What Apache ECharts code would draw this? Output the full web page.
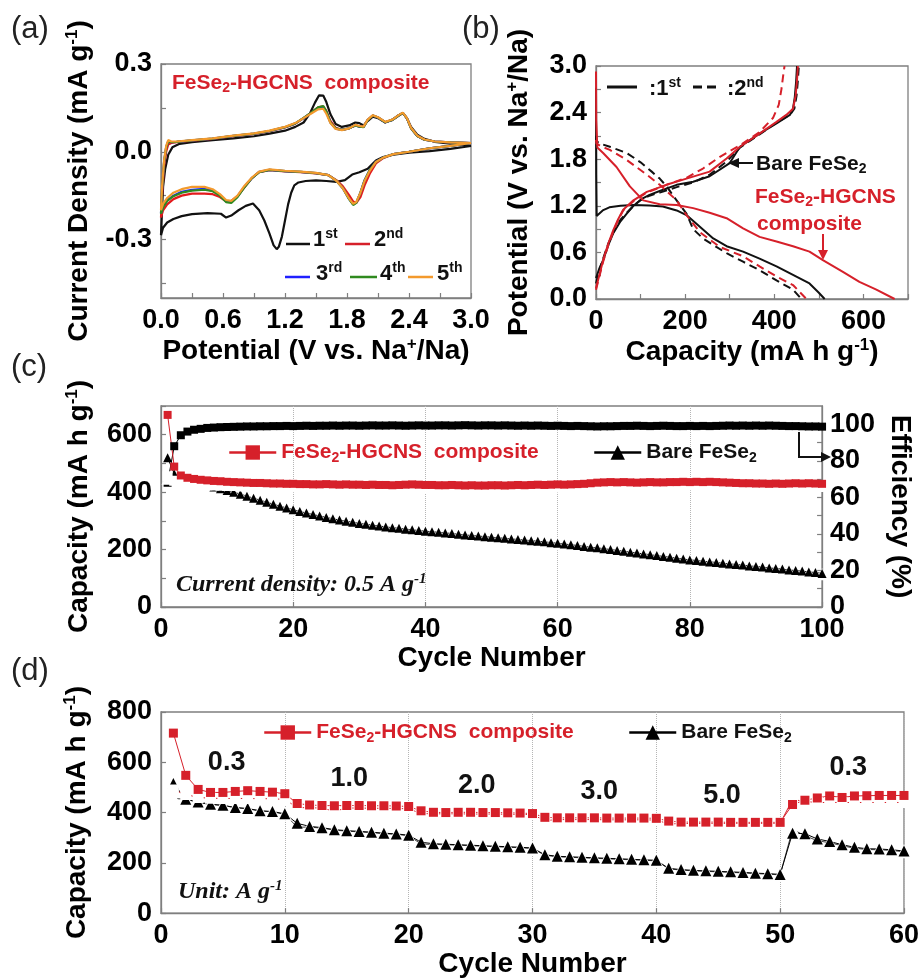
<!DOCTYPE html>
<html><head><meta charset="utf-8">
<script src="https://cdn.jsdelivr.net/npm/echarts@6/dist/echarts.min.js"></script>
<style>html,body{margin:0;padding:0;background:#fff}#c{width:922px;height:979px}</style>
</head><body><div id="c"></div>
<script>
// ---------------- (a) cyclic voltammetry ----------------
const cv1Volt = [3.0,2.8,2.6,2.4,2.25,2.15,2.08,2.0,1.92,1.85,1.78,1.7,1.6,1.5,1.4,1.33,1.29,1.26,1.23,1.2,1.17,1.14,1.12,1.09,1.05,1.0,0.95,0.89,0.82,0.75,0.68,0.63,0.58,0.45,0.3,0.2,0.12,0.06,0.02,0,
  0.01,0.02,0.04,0.07,0.11,0.18,0.3,0.5,0.7,0.9,1.05,1.2,1.3,1.38,1.44,1.49,1.53,1.57,1.6,1.64,1.69,1.75,1.82,1.88,1.92,1.96,2.0,2.05,2.1,2.17,2.24,2.3,2.34,2.38,2.42,2.48,2.55,2.65,2.8,3.0];
const cv1Cur = [0.02,0.01,0.002,-0.003,-0.01,-0.018,-0.03,-0.058,-0.07,-0.078,-0.097,-0.103,-0.1,-0.098,-0.1,-0.105,-0.115,-0.14,-0.18,-0.235,-0.29,-0.325,-0.333,-0.32,-0.28,-0.235,-0.2,-0.177,-0.185,-0.2,-0.218,-0.225,-0.212,-0.21,-0.213,-0.22,-0.23,-0.242,-0.26,-0.285,
  -0.2,-0.12,-0.06,-0.01,0.015,0.027,0.033,0.04,0.046,0.053,0.062,0.072,0.085,0.1,0.13,0.168,0.193,0.192,0.17,0.128,0.095,0.085,0.09,0.1,0.098,0.09,0.105,0.12,0.115,0.1,0.11,0.125,0.132,0.115,0.085,0.058,0.044,0.034,0.028,0.02];
const cvVolt = [3.0,2.8,2.6,2.4,2.25,2.15,2.08,2.02,1.97,1.93,1.89,1.86,1.82,1.76,1.7,1.62,1.5,1.35,1.2,1.05,0.95,0.88,0.8,0.74,0.68,0.63,0.57,0.5,0.42,0.3,0.2,0.12,0.06,0.02,0,
  0.01,0.03,0.05,0.07,0.1,0.15,0.3,0.5,0.7,0.9,1.05,1.2,1.3,1.38,1.45,1.52,1.57,1.6,1.64,1.69,1.75,1.82,1.88,1.92,1.96,2.0,2.05,2.1,2.17,2.24,2.3,2.34,2.38,2.42,2.48,2.55,2.65,2.8,3.0];
const cvCur2 = [0.03,0.02,0.012,0.0,-0.008,-0.022,-0.04,-0.075,-0.115,-0.155,-0.175,-0.17,-0.148,-0.118,-0.098,-0.08,-0.074,-0.07,-0.067,-0.063,-0.07,-0.09,-0.125,-0.152,-0.168,-0.17,-0.155,-0.145,-0.143,-0.143,-0.15,-0.162,-0.18,-0.2,-0.225,
  -0.15,-0.05,0.0,0.025,0.03,0.033,0.038,0.044,0.053,0.061,0.07,0.083,0.096,0.115,0.133,0.152,0.155,0.14,0.105,0.082,0.075,0.08,0.09,0.087,0.085,0.108,0.124,0.117,0.101,0.109,0.124,0.133,0.114,0.08,0.054,0.041,0.035,0.032,0.03];
const cvCur3 = [0.03,0.02,0.012,0.0,-0.008,-0.02,-0.034,-0.062,-0.097,-0.14,-0.174,-0.18,-0.161,-0.125,-0.1,-0.08,-0.073,-0.069,-0.066,-0.062,-0.069,-0.09,-0.123,-0.153,-0.172,-0.17,-0.148,-0.133,-0.127,-0.13,-0.137,-0.15,-0.166,-0.188,-0.21,
  -0.13,-0.034,0.016,0.036,0.033,0.034,0.039,0.045,0.054,0.062,0.071,0.084,0.097,0.115,0.132,0.15,0.153,0.136,0.1,0.079,0.075,0.08,0.09,0.086,0.085,0.109,0.124,0.117,0.101,0.109,0.124,0.133,0.114,0.081,0.054,0.041,0.035,0.032,0.03];
const cvCur4 = [0.03,0.02,0.012,0.0,-0.008,-0.02,-0.035,-0.062,-0.098,-0.14,-0.175,-0.182,-0.162,-0.125,-0.1,-0.08,-0.073,-0.069,-0.066,-0.062,-0.07,-0.09,-0.125,-0.155,-0.175,-0.172,-0.15,-0.135,-0.13,-0.133,-0.14,-0.152,-0.168,-0.19,-0.212,
  -0.13,-0.035,0.015,0.035,0.033,0.034,0.039,0.045,0.054,0.062,0.071,0.084,0.097,0.116,0.133,0.152,0.156,0.138,0.1,0.08,0.075,0.08,0.09,0.086,0.084,0.108,0.124,0.117,0.101,0.109,0.124,0.133,0.114,0.08,0.054,0.041,0.035,0.032,0.03];
const cvCur5 = [0.03,0.02,0.012,0.0,-0.008,-0.02,-0.035,-0.065,-0.1,-0.14,-0.172,-0.178,-0.16,-0.125,-0.1,-0.08,-0.072,-0.068,-0.065,-0.06,-0.068,-0.088,-0.12,-0.15,-0.168,-0.165,-0.145,-0.128,-0.12,-0.12,-0.128,-0.14,-0.158,-0.178,-0.2,
  -0.12,-0.03,0.02,0.04,0.035,0.035,0.04,0.046,0.055,0.063,0.072,0.085,0.098,0.115,0.13,0.145,0.147,0.13,0.098,0.078,0.074,0.08,0.092,0.088,0.086,0.11,0.125,0.118,0.102,0.11,0.125,0.134,0.115,0.082,0.055,0.042,0.035,0.032,0.03];

// ---------------- (b) charge / discharge profiles ----------------
const bareD1Cap = [0,0.5,1.5,5,15,30,55,84,120,150,181,203,233,263,293,330,367,405,442,479,500,513];
const bareD1V   = [2.72,1.6,1.07,1.08,1.14,1.18,1.2,1.21,1.205,1.19,1.14,1.08,0.93,0.78,0.68,0.61,0.52,0.42,0.31,0.2,0.08,0];
const bareC1Cap = [0,8,16,28,39,55,69,84,106,120,143,181,218,255,300,323,367,405,435,442,446,449,451];
const bareC1V   = [0.27,0.4,0.5,0.7,0.85,1.0,1.1,1.2,1.3,1.34,1.39,1.47,1.51,1.58,1.75,1.96,2.13,2.26,2.37,2.45,2.6,2.8,3.0];
const bareD2Cap = [0,1,10,31,69,100,125,143,160,173,190,203,218,240,270,293,330,367,405,442,461];
const bareD2V   = [2.1,2.03,2.0,1.96,1.88,1.76,1.64,1.55,1.44,1.33,1.2,1.1,0.9,0.78,0.67,0.59,0.48,0.37,0.24,0.12,0];
const bareC2Cap = [0,8,16,28,39,55,69,84,99,120,143,181,218,255,293,323,367,405,435,445,450,453,455];
const bareC2V   = [0.2,0.38,0.52,0.72,0.86,1.02,1.11,1.2,1.27,1.33,1.37,1.44,1.5,1.6,1.77,1.95,2.12,2.27,2.37,2.45,2.62,2.82,3.0];
const compD1Cap = [0,0.5,3,16,46,76,106,143,181,218,255,293,330,367,405,442,479,509,554,591,629,670];
const compD1V   = [2.93,2.3,1.95,1.88,1.7,1.45,1.27,1.22,1.21,1.17,1.11,1.04,0.91,0.8,0.74,0.68,0.61,0.5,0.35,0.22,0.12,0];
const compC1Cap = [0,8,16,28,39,50,61,84,114,158,203,255,293,323,367,405,427,442,448,451,453];
const compC1V   = [0.14,0.32,0.5,0.72,0.89,1.03,1.15,1.27,1.38,1.47,1.55,1.64,1.81,1.96,2.13,2.28,2.37,2.45,2.62,2.82,3.0];
const compD2Cap = [0,1,10,31,69,114,143,181,203,233,278,330,367,405,442,472];
const compD2V   = [2.05,2.0,1.97,1.92,1.79,1.6,1.47,1.27,1.08,0.86,0.67,0.55,0.42,0.29,0.18,0];
const compC2Cap = [0,8,16,28,39,50,61,84,114,158,203,240,278,323,367,397,410,416,420,423];
const compC2V   = [0.12,0.3,0.48,0.7,0.87,1.02,1.14,1.26,1.37,1.47,1.56,1.68,1.83,1.98,2.15,2.33,2.5,2.7,2.88,3.0];

// ---------------- (c) cycling at 0.5 A/g ----------------
const compDisC = [669,489,458,450,446,443,441,439,438,436, 435,434,433,432,432,431,430,430,429,429,
  428,428,427,427,428,427,426,427,426,426, 425,426,425,425,424,425,426,427,426,425,
  425,424,424,425,424,423,424,423,423,424, 424,423,424,425,424,425,426,425,426,427,
  426,427,428,429,431,433,434,435,434,435, 434,433,434,435,434,434,435,435,436,435,
  436,435,436,435,434,433,432,431,431,430, 430,429,430,429,430,431,430,431,430,429];
const compChaC = [455,440,432,428,426,425,424,423,422,421, 421,420,420,419,419,418,418,418,417,417,
  417,416,416,416,416,415,415,416,415,415, 414,415,414,414,413,414,415,416,415,414,
  414,413,413,414,413,412,413,412,412,413, 413,412,413,414,413,414,415,414,415,416,
  415,416,417,418,420,422,423,424,423,424, 423,422,423,424,423,423,424,424,425,424,
  425,424,425,424,423,422,421,420,420,419, 419,418,419,418,419,420,419,420,419,418];
const bareDisC = [520,464,448,440,434,428,423,418,412,406, 400,393,386,379,372,365,358,351,345,339,
  333,327,322,317,312,307,303,299,295,291, 288,285,282,279,276,274,271,269,266,264,
  262,260,258,256,253,251,249,247,245,243, 241,239,237,235,233,231,229,227,224,222,
  219,217,214,211,208,206,203,200,197,194, 191,188,185,182,179,176,173,170,167,164,
  162,159,157,155,152,150,148,146,143,141, 139,136,134,132,129,127,125,122,120,117];
const bareChaC = [445,448,440,434,429,423,418,413,407,401, 395,388,381,374,367,360,353,346,340,334,
  328,322,317,312,307,302,298,294,290,286, 283,280,277,274,271,269,266,264,261,259,
  257,255,253,251,248,246,244,242,240,238, 236,234,232,230,228,226,224,222,219,217,
  214,212,209,206,203,201,198,195,192,189, 186,183,180,177,174,171,168,165,162,159,
  157,154,152,150,147,145,143,141,138,136, 134,131,129,127,124,122,120,117,115,112];
const effC = [68,88,94,96,97,97.5,98,98.2,98.4,98.5, 98.6,98.7,98.8,98.8,98.9,98.9,99,99,99.1,99,
  99.1,99.2,99.1,99.2,99.2,99.3,99.2,99.3,99.3,99.2, 99.3,99.4,99.3,99.3,99.4,99.3,99.2,99.3,99.4,99.3,
  99.3,99.4,99.4,99.3,99.4,99.5,99.4,99.3,99.4,99.4, 99.3,99.4,99.3,99.2,99.3,99.2,99.3,99.2,99.1,99.2,
  99.1,99.0,99.1,99.0,98.9,98.8,98.9,98.9,99.0,99.1, 99.1,99.2,99.1,99.0,99.1,99.2,99.1,99.0,99.0,99.1,
  99.0,99.1,99.0,99.1,99.2,99.3,99.2,99.3,99.2,99.3, 99.2,99.3,99.2,99.1,99.0,99.0,98.9,98.8,98.8,98.7];

// ---------------- (d) rate capability ----------------
const compDisD = [716,548,492,480,480,484,487,484,481,475, 436,430,428,427,428,428,427,427,426,424,
  407,401,400,401,401,400,400,399,398,396, 381,379,379,379,379,378,378,378,378,377,
  366,362,362,362,362,361,361,361,361,361, 432,449,458,466,460,466,467,468,468,468];
const compChaD = [490,472,460,457,456,456,456,455,455,452, 420,419,418,405,418,418,417,417,416,415,
  396,395,395,395,394,394,394,393,393,392, 368,372,372,372,372,371,371,371,371,370,
  355,356,357,357,357,357,357,357,357,357, 452,444,440,440,440,440,440,440,440,440];
const bareDisD = [516,453,442,433,429,420,416,407,404,395, 357,345,340,332,328,325,322,318,315,310,
  282,276,274,272,270,268,266,264,262,259, 232,226,224,222,220,218,216,214,212,210,
  178,173,170,168,166,164,162,159,157,154, 318,316,295,285,272,262,256,255,252,247];
const bareChaD = [456,453,440,432,428,419,415,406,403,393, 342,342,338,330,326,323,320,316,313,308,
  275,273,272,270,268,266,264,262,260,257, 230,224,222,220,218,216,214,212,210,208,
  176,171,168,166,164,162,160,157,155,152, 333,308,288,280,268,258,253,252,249,244];
const rateLabels = ['0.3','1.0','2.0','3.0','5.0','0.3'];
const rateLabelCycle = [5.3, 15.2, 25.5, 35.4, 45.3, 55.5];
const rateLabelCap = [598, 537, 506, 482, 468, 578];

// ---------------- tick labels ----------------
const aXTicks = [0,0.6,1.2,1.8,2.4,3.0];
const aYTicks = [-0.3,0,0.3];
const bXTicks = [0,200,400,600];
const bYTicks = [0,0.6,1.2,1.8,2.4,3.0];
const cYTicks = [0,200,400,600];
const cY2Ticks = [0,20,40,60,80,100];

// ---------------- styling / building ----------------
const FONT = '"Liberation Sans", Arial, Helvetica, sans-serif';
const SERIF = '"Liberation Serif", "Times New Roman", serif';
const RED = '#d6202a';
const GREY = '#7f7f7f';
const zip = (xs, ys) => xs.map((x, i) => [x, ys[i]]);
const cycC = compDisC.map((_, i) => i + 1);
const cycD = compDisD.map((_, i) => i + 1);

function merge(a, b) {
  const o = Object.assign({}, a);
  for (const k in b) {
    if (b[k] && typeof b[k] === 'object' && !Array.isArray(b[k]) && a[k] && typeof a[k] === 'object') o[k] = merge(a[k], b[k]);
    else o[k] = b[k];
  }
  return o;
}
const nameRich = {
  t: {fontFamily: FONT, fontWeight: 'bold', fontSize: 28, color: '#000', lineHeight: 31},
  s: {fontFamily: FONT, fontWeight: 'bold', fontSize: 17, color: '#000', verticalAlign: 'top', lineHeight: 17}
};
function ax(o) {
  return merge({
    type: 'value',
    axisLine: {show: true, onZero: false, lineStyle: {color: GREY, width: 1.3}},
    axisTick: {show: true, inside: true, length: 5, lineStyle: {color: GREY, width: 1.2}},
    axisLabel: {color: '#000', fontFamily: FONT, fontWeight: 'bold', fontSize: 27, margin: 9},
    splitLine: {show: false},
    nameLocation: 'middle',
    nameTextStyle: {rich: nameRich}
  }, o);
}
const fix1 = v => Number(v).toFixed(1);

const grids = [
  {left: 161, top: 64, width: 310, height: 234},
  {left: 596, top: 66, width: 312, height: 233},
  {left: 161, top: 406, width: 671, height: 201},
  {left: 161, top: 712, width: 747, height: 203}
].map(g => Object.assign(g, {show: true, borderColor: GREY, borderWidth: 1.3, backgroundColor: 'transparent'}));

const xAxes = [
  ax({gridIndex: 0, min: 0, max: 3, name: '{t|Potential (V vs. Na}{s|+}{t|/Na)}', nameGap: 38,
      axisLabel: {customValues: aXTicks, formatter: fix1},
      axisTick: {customValues: [0,0.3,0.6,0.9,1.2,1.5,1.8,2.1,2.4,2.7,3.0]}}),
  ax({gridIndex: 1, min: 0, max: 700, name: '{t|Capacity (mA h g}{s|-1}{t|)}', nameGap: 38,
      axisLabel: {customValues: bXTicks},
      axisTick: {customValues: [0,100,200,300,400,500,600,700]}}),
  ax({gridIndex: 2, min: 0, max: 100, interval: 20, name: '{t|Cycle Number}', nameGap: 36,
      splitLine: {show: true, lineStyle: {type: 'dotted', color: '#b5b5b5', width: 1}}}),
  ax({gridIndex: 3, min: 0, max: 60, interval: 10, name: '{t|Cycle Number}', nameGap: 31,
      splitLine: {show: true, lineStyle: {type: 'dotted', color: '#b5b5b5', width: 1}}})
];
const yAxes = [
  ax({gridIndex: 0, min: -0.5, max: 0.3, name: '{t|Current Density (mA g}{s|-1}{t|)}', nameGap: 66,
      axisLabel: {customValues: aYTicks, formatter: fix1},
      axisTick: {customValues: [-0.45,-0.3,-0.15,0,0.15,0.3]}}),
  ax({gridIndex: 1, min: 0, max: 3, name: '{t|Potential (V vs. Na}{s|+}{t|/Na)}', nameGap: 61,
      axisLabel: {customValues: bYTicks, formatter: fix1},
      axisTick: {customValues: [0,0.3,0.6,0.9,1.2,1.5,1.8,2.1,2.4,2.7,3.0]}}),
  ax({gridIndex: 2, min: 0, max: 700, name: '{t|Capacity (mA h g}{s|-1}{t|)}', nameGap: 66,
      axisLabel: {customValues: cYTicks}, axisTick: {customValues: [0,100,200,300,400,500,600,700]}}),
  ax({gridIndex: 2, min: 0, max: 110, position: 'right', name: '{t|Efficiency (%)}', nameGap: 50, nameRotate: -90,
      axisLabel: {customValues: cY2Ticks, margin: 8}, axisTick: {customValues: [0,10,20,30,40,50,60,70,80,90,100]}}),
  ax({gridIndex: 3, min: 0, max: 800, interval: 200, name: '{t|Capacity (mA h g}{s|-1}{t|)}', nameGap: 68})
];

function line(name, xi, yi, data, color, width, dash) {
  return {name, type: 'line', xAxisIndex: xi, yAxisIndex: yi, data, showSymbol: false, symbol: 'none',
    lineStyle: {color, width, type: dash ? [8, 5] : 'solid'}, itemStyle: {color}, silent: true, z: 3};
}
function pts(name, xi, yi, data, color, symbol, size, hollow) {
  return {name, type: 'line', xAxisIndex: xi, yAxisIndex: yi, data, symbol, symbolSize: size, showSymbol: true,
    lineStyle: {color, width: 1}, itemStyle: hollow ? {color: '#fff', borderColor: color, borderWidth: 1.2} : {color},
    silent: true, z: 3};
}

const series = [
  line('cv1', 0, 0, zip(cv1Volt, cv1Cur), '#111', 2.2),
  line('cv2', 0, 0, zip(cvVolt, cvCur2), '#e31a1c', 2.2),
  line('cv3', 0, 0, zip(cvVolt, cvCur3), '#2020ff', 2.2),
  line('cv4', 0, 0, zip(cvVolt, cvCur4), '#2f8a1f', 2.2),
  line('cv5', 0, 0, zip(cvVolt, cvCur5), '#f39a2d', 2.2),

  line('bD1', 1, 1, zip(bareD1Cap, bareD1V), '#111', 2),
  line('bC1', 1, 1, zip(bareC1Cap, bareC1V), '#111', 2),
  line('bD2', 1, 1, zip(bareD2Cap, bareD2V), '#111', 2, true),
  line('bC2', 1, 1, zip(bareC2Cap, bareC2V), '#111', 2, true),
  line('cD1', 1, 1, zip(compD1Cap, compD1V), RED, 2),
  line('cC1', 1, 1, zip(compC1Cap, compC1V), RED, 2),
  line('cD2', 1, 1, zip(compD2Cap, compD2V), RED, 2, true),
  line('cC2', 1, 1, zip(compC2Cap, compC2V), RED, 2, true),

  pts('effC', 2, 3, zip(cycC, effC), '#000', 'rect', 8),
  pts('bareChaC', 2, 2, zip(cycC, bareChaC), '#333', 'emptyTriangle', 9, true),
  pts('bareC', 2, 2, zip(cycC, bareDisC), '#000', 'triangle', 9),
  pts('compChaC', 2, 2, zip(cycC, compChaC), RED, 'emptyRect', 8, true),
  pts('compC', 2, 2, zip(cycC, compDisC), RED, 'rect', 8),

  pts('bareChaD', 3, 4, zip(cycD, bareChaD), '#444', 'emptyTriangle', 11, true),
  pts('bareD', 3, 4, zip(cycD, bareDisD), '#000', 'triangle', 11),
  pts('compChaD', 3, 4, zip(cycD, compChaD), RED, 'emptyRect', 9, true),
  pts('compD', 3, 4, zip(cycD, compDisD), RED, 'rect', 9),
  {type: 'scatter', xAxisIndex: 3, yAxisIndex: 4, symbolSize: 1, silent: true, z: 5,
   itemStyle: {opacity: 0},
   data: rateLabelCycle.map((c, i) => ({value: [c, rateLabelCap[i]], name: rateLabels[i]})),
   label: {show: true, position: 'inside', opacity: 1, formatter: p => p.name, color: '#111', fontFamily: FONT, fontWeight: 'bold', fontSize: 27}}
];

const legRich = {
  r: {fontFamily: FONT, fontWeight: 'bold', fontSize: 21, color: RED, lineHeight: 25},
  rs: {fontFamily: FONT, fontWeight: 'bold', fontSize: 14, color: RED, verticalAlign: 'bottom', lineHeight: 14, padding: [9, 0, 0, 0]},
  k: {fontFamily: FONT, fontWeight: 'bold', fontSize: 21, color: '#111', lineHeight: 25},
  ks: {fontFamily: FONT, fontWeight: 'bold', fontSize: 14, color: '#111', verticalAlign: 'bottom', lineHeight: 14, padding: [9, 0, 0, 0]}
};
const legNames = {
  compC: '{r|FeSe}{rs|2}{r|-HGCNS  composite}', compD: '{r|FeSe}{rs|2}{r|-HGCNS  composite}',
  bareC: '{k|Bare FeSe}{ks|2}', bareD: '{k|Bare FeSe}{ks|2}'
};
function leg(name, left, top) {
  return {data: [name], left, top, itemWidth: 47, itemHeight: 18, selectedMode: false, padding: 0,
    lineStyle: {width: 2.5}, formatter: n => legNames[n], textStyle: {rich: legRich}};
}

// graphics: annotations
const G = [];
function txt(x, y, text, rich, align) {
  G.push({type: 'text', x, y, z: 10, style: {text, rich, align: align || 'left', verticalAlign: 'middle'}});
}
function seg(x1, y1, x2, y2, color, w, dash) {
  G.push({type: 'line', z: 10, shape: {x1, y1, x2, y2}, style: {stroke: color, lineWidth: w, lineDash: dash || null}});
}
function tri(points, color) {
  G.push({type: 'polygon', z: 10, shape: {points}, style: {fill: color}});
}
const panelRich = {p: {fontFamily: FONT, fontSize: 31, fill: '#222'}};
txt(11, 29, '{p|(a)}', panelRich);
txt(462, 29, '{p|(b)}', panelRich);
txt(11, 367, '{p|(c)}', panelRich);
txt(11, 671, '{p|(d)}', panelRich);

const smallRich = {
  n: {fontFamily: FONT, fontWeight: 'bold', fontSize: 22, fill: '#111', lineHeight: 26},
  p: {fontFamily: FONT, fontWeight: 'bold', fontSize: 14, fill: '#111', verticalAlign: 'top', lineHeight: 14},
  r: {fontFamily: FONT, fontWeight: 'bold', fontSize: 21, fill: RED, lineHeight: 25},
  rs: {fontFamily: FONT, fontWeight: 'bold', fontSize: 14, fill: RED, verticalAlign: 'bottom', lineHeight: 14, padding: [9, 0, 0, 0]},
  k: {fontFamily: FONT, fontWeight: 'bold', fontSize: 21, fill: '#111', lineHeight: 25},
  ks: {fontFamily: FONT, fontWeight: 'bold', fontSize: 14, fill: '#111', verticalAlign: 'bottom', lineHeight: 14, padding: [9, 0, 0, 0]}
};
// (a)
txt(172, 83, '{r|FeSe}{rs|2}{r|-HGCNS  composite}', smallRich);
seg(286, 244, 310, 244, '#111', 2.5); txt(313, 240, '{n|1}{p|st}', smallRich);
seg(345, 244, 370, 244, RED, 2.5); txt(374, 240, '{n|2}{p|nd}', smallRich);
seg(285, 277, 310, 277, '#2020ff', 2.5); txt(316, 274, '{n|3}{p|rd}', smallRich);
seg(350, 277, 377, 277, '#2f8a1f', 2.5); txt(380, 274, '{n|4}{p|th}', smallRich);
seg(408, 277, 433, 277, '#f39a2d', 2.5); txt(437, 274, '{n|5}{p|th}', smallRich);
// (b)
seg(607, 87, 637, 87, '#111', 3); txt(649, 89, '{n|:1}{p|st}', smallRich);
seg(693, 87, 721, 87, '#111', 3, [9, 5]); txt(727, 89, '{n|:2}{p|nd}', smallRich);
seg(736, 163, 753, 163, '#111', 2); tri([[728, 163], [739, 158], [739, 168]], '#111');
txt(756, 164, '{k|Bare FeSe}{ks|2}', smallRich);
txt(755, 197, '{r|FeSe}{rs|2}{r|-HGCNS}', smallRich);
txt(757, 224, '{r|composite}', smallRich);
seg(823, 234, 823, 252, RED, 2); tri([[823, 260], [818, 250], [828, 250]], RED);
// (c)
G.push({type: 'polyline', z: 10, shape: {points: [[799, 432], [799, 457], [823, 457]]}, style: {stroke: '#111', lineWidth: 2, fill: null}});
tri([[831, 457], [821, 452], [821, 462]], '#111');
const itRich = {
  i: {fontFamily: SERIF, fontStyle: 'italic', fontWeight: 'bold', fontSize: 24, fill: '#111', lineHeight: 27},
  is: {fontFamily: SERIF, fontStyle: 'italic', fontWeight: 'bold', fontSize: 15, fill: '#111', verticalAlign: 'top', lineHeight: 15}
};
txt(176, 585, '{i|Current density: 0.5 A g}{is|-1}', itRich);
txt(178, 892, '{i|Unit: A g}{is|-1}', itRich);

const option = {
  animation: false,
  backgroundColor: '#fff',
  textStyle: {fontFamily: FONT},
  grid: grids,
  xAxis: xAxes,
  yAxis: yAxes,
  legend: [leg('compC', 228, 442), leg('bareC', 593, 442), leg('compD', 263, 722), leg('bareD', 628, 722)],
  series,
  graphic: G
};
const chart = echarts.init(document.getElementById('c'), null, {renderer: 'canvas'});
chart.setOption(option);
</script></body></html>
